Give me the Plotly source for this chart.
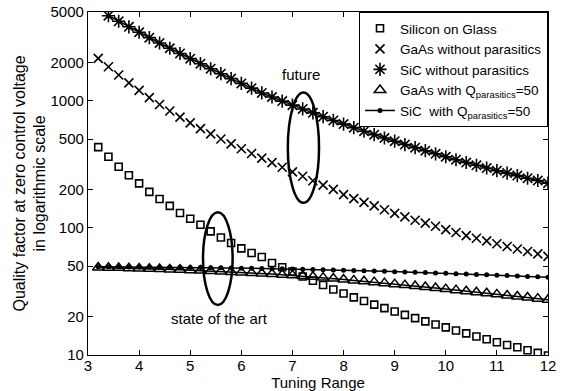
import plotly.graph_objects as go

# ---- data ----
tuning_range = [3.2, 3.4, 3.6, 3.8, 4.0, 4.2, 4.4, 4.6, 4.8, 5.0, 5.2, 5.4, 5.6, 5.8, 6.0,
                6.2, 6.4, 6.6, 6.8, 7.0, 7.2, 7.4, 7.6, 7.8, 8.0, 8.2, 8.4, 8.6, 8.8, 9.0,
                9.2, 9.4, 9.6, 9.8, 10.0, 10.2, 10.4, 10.6, 10.8, 11.0, 11.2, 11.4, 11.6, 11.8, 12.0]

silicon_on_glass = [432, 363, 303, 260, 224, 192, 169, 149, 131, 118, 106, 94, 84, 76, 69,
                    63.5, 59, 53, 49, 45.4, 41.5, 38.4, 35.5, 32.8, 30.5, 28.4, 26.6, 24.9, 23.4, 22.0,
                    20.7, 19.5, 18.4, 17.4, 16.5, 15.6, 14.8, 14.0, 13.3, 12.6, 12.0, 11.5, 10.9, 10.4, 9.9]

gaas_no_parasitics = [2158, 1854, 1596, 1384, 1208, 1059, 935, 832, 745, 670, 605, 550, 501, 458, 420,
                      385, 354, 326, 300, 276, 255, 235, 217, 201, 183, 170, 159, 149, 139, 130,
                      122, 115, 109, 103, 97, 92, 87, 83, 79, 75, 71.4, 68.2, 65.2, 62.4, 59.7]

sic_no_parasitics = [None, 4677, 4227, 3824, 3464, 3141, 2851, 2592, 2358, 2148, 1959, 1789, 1635, 1496, 1371,
                     1258, 1153, 1072, 995, 925, 863, 804, 750, 701, 656, 615, 577, 542, 510, 481,
                     453, 428, 405, 383, 363, 344, 327, 311, 296, 282, 270, 258, 246, 236, 225]

gaas_q50 = [48.87, 48.69, 48.48, 48.26, 48.01, 47.75, 47.46, 47.17, 46.86, 46.53, 46.18, 45.83, 45.46, 45.08, 44.68,
            44.25, 43.81, 43.35, 42.86, 42.33, 41.80, 41.23, 40.64, 40.04, 39.27, 38.64, 38.04, 37.44, 36.77, 36.11,
            35.47, 34.85, 34.28, 33.66, 32.99, 32.39, 31.75, 31.20, 30.62, 30.00, 29.41, 28.85, 28.30, 27.76, 27.21]

sic_q50 = [49.52, 49.47, 49.42, 49.35, 49.29, 49.22, 49.14, 49.05, 48.96, 48.86, 48.76, 48.64, 48.52, 48.38, 48.24,
           48.09, 47.92, 47.77, 47.61, 47.44, 47.26, 47.07, 46.88, 46.67, 46.46, 46.24, 46.01, 45.78, 45.54, 45.29,
           45.03, 44.77, 44.51, 44.23, 43.95, 43.65, 43.37, 43.07, 42.77, 42.47, 42.19, 41.88, 41.55, 41.26, 40.91]

x_ticks = [3, 4, 5, 6, 7, 8, 9, 10, 11, 12]
y_ticks = [10, 20, 50, 100, 200, 500, 1000, 2000, 5000]
y_tick_labels = ["10", "20", "50", "100", "200", "500", "1000", "2000", "5000"]

names = ["Silicon on Glass",
         "GaAs without parasitics",
         "SiC without parasitics",
         "GaAs with Q<sub>parasitics</sub>=50",
         "SiC  with Q<sub>parasitics</sub>=50"]

FONT = "Arial, Liberation Sans, sans-serif"
BLACK = "black"

fig = go.Figure()

# connecting lines (not in legend)
for ys in (sic_no_parasitics, gaas_q50):
    fig.add_trace(go.Scatter(x=tuning_range, y=ys, mode="lines", showlegend=False,
                             line=dict(color=BLACK, width=1.5), hoverinfo="skip"))

fig.add_trace(go.Scatter(x=tuning_range, y=silicon_on_glass, mode="markers", name=names[0],
                         marker=dict(symbol="square-open", size=7, color=BLACK,
                                     line=dict(width=1.6, color=BLACK))))
fig.add_trace(go.Scatter(x=tuning_range, y=gaas_no_parasitics, mode="markers", name=names[1],
                         marker=dict(symbol="x-thin-open", size=9, color=BLACK,
                                     line=dict(width=1.6, color=BLACK))))
fig.add_trace(go.Scatter(x=tuning_range, y=sic_no_parasitics, mode="markers", name=names[2],
                         marker=dict(symbol="asterisk-open", size=11, color=BLACK,
                                     line=dict(width=1.6, color=BLACK))))
fig.add_trace(go.Scatter(x=tuning_range, y=gaas_q50, mode="markers", name=names[3],
                         marker=dict(symbol="triangle-up-open", size=10, color=BLACK,
                                     line=dict(width=1.5, color=BLACK))))
fig.add_trace(go.Scatter(x=tuning_range, y=sic_q50, mode="lines+markers", name=names[4],
                         line=dict(color=BLACK, width=1.5),
                         marker=dict(symbol="circle", size=5, color=BLACK)))

axis_common = dict(showline=True, linecolor=BLACK, linewidth=1.2, mirror="ticks",
                   ticks="inside", ticklen=5, tickcolor=BLACK, tickwidth=1,
                   showgrid=False, zeroline=False, automargin=False,
                   tickfont=dict(family=FONT, size=15, color=BLACK))

fig.update_xaxes(range=[3, 12], tickvals=x_ticks, ticklabelstandoff=-3,
                 title=dict(text="Tuning Range", font=dict(family=FONT, size=15, color=BLACK), standoff=0),
                 **axis_common)
fig.update_yaxes(type="log", range=[1, 3.69897], tickvals=y_ticks, ticktext=y_tick_labels,
                 title=dict(text="Quality factor at zero control voltage<br>in logarithmic scale",
                            font=dict(family=FONT, size=16, color=BLACK), standoff=0),
                 **axis_common)

ell = dict(type="circle", xref="x", yref="y domain", line=dict(color=BLACK, width=2.5))
fig.add_shape(x0=6.91, x1=7.52, y0=0.444, y1=0.765, **ell)
fig.add_shape(x0=5.25, x1=5.83, y0=0.146, y1=0.416, **ell)

fig.add_annotation(x=7.16, y=0.819, xref="x", yref="y domain", text="future", showarrow=False,
                   xanchor="center", yanchor="middle",
                   font=dict(family=FONT, size=15, color=BLACK))
fig.add_annotation(x=5.57, y=0.105, xref="x", yref="y domain", text="state of the art", showarrow=False,
                   xanchor="center", yanchor="middle",
                   font=dict(family=FONT, size=15, color=BLACK))

fig.update_layout(
    width=562, height=391,
    margin=dict(l=88, r=14, t=12, b=36, autoexpand=False),
    paper_bgcolor="white", plot_bgcolor="white",
    font=dict(family=FONT, size=15, color=BLACK),
    showlegend=True,
    legend=dict(x=1, y=1, xanchor="right", yanchor="top", bgcolor="white",
                bordercolor=BLACK, borderwidth=1, itemwidth=30,
                font=dict(family=FONT, size=13.5, color=BLACK),
                tracegroupgap=0),
)

fig.write_html("out.html", config={"displayModeBar": False},
               post_script="document.body.style.margin='0';document.body.style.padding='0';")
